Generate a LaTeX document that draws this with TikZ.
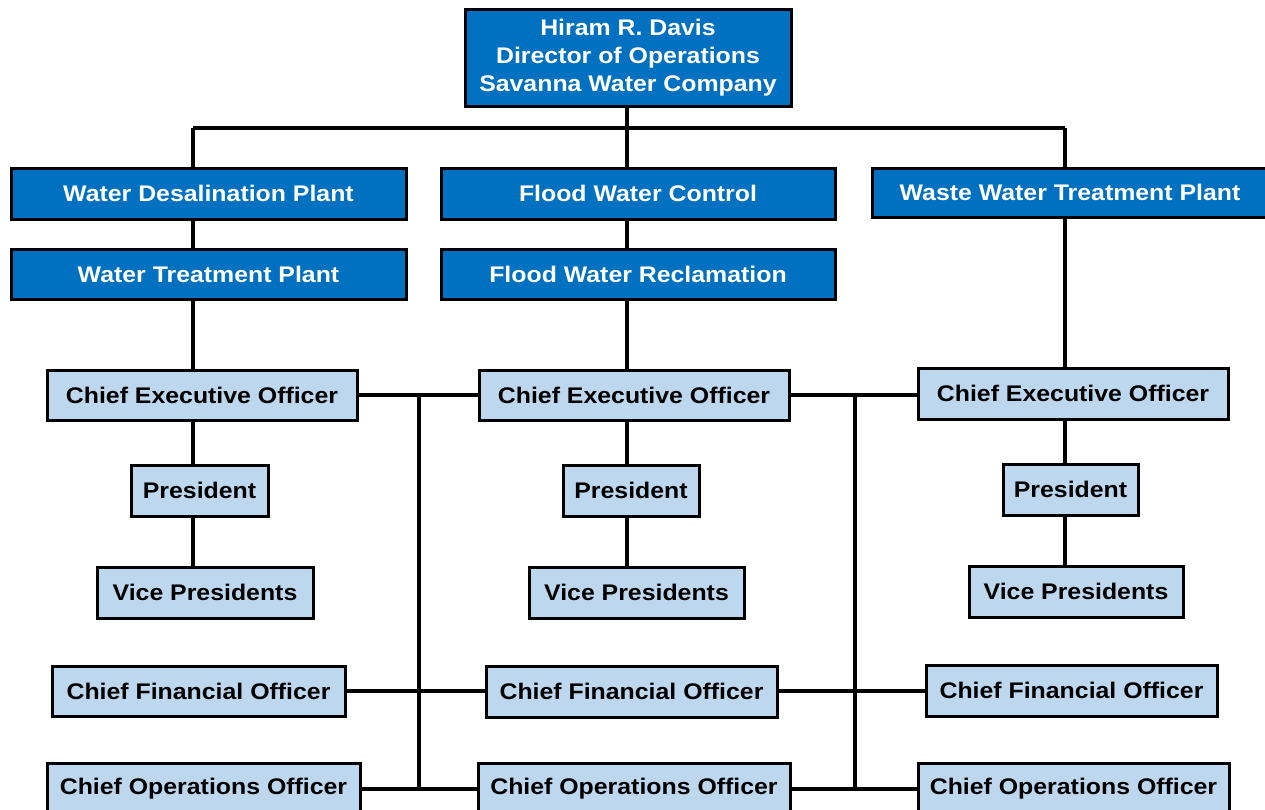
\documentclass[tikz,border=0pt]{standalone}
\usepackage{fontspec}
\setmainfont{Liberation Sans}[FakeStretch=1.1]
\definecolor{dblue}{HTML}{0070C0}
\definecolor{lblue}{HTML}{BDD7EE}
\begin{document}
\begin{tikzpicture}[x=1pt,y=-1pt,
  base/.style={draw=black,line width=3pt,inner sep=0pt,font=\fontsize{22.6}{28}\selectfont\bfseries,align=center},
  dbox/.style={base,fill=dblue,text=white},
  lbox/.style={base,fill=lblue,text=black},
  conn/.style={line width=3.5pt,black}]
\useasboundingbox (0,0) rectangle (1265,809);
\clip (0,0) rectangle (1265,809);
\fill[white] (0,0) rectangle (1265,809);
% level 1
\node[dbox,minimum width=326pt,minimum height=97pt] (top) at (628,57.5) {Hiram R. Davis\\Director of Operations\\Savanna Water Company};
% level 2
\node[dbox,minimum width=395pt,minimum height=51pt] (wdp) at (208.5,193.5) {Water Desalination Plant};
\node[dbox,minimum width=394pt,minimum height=51pt] (fwc) at (638,193.5) {Flood Water Control};
\node[dbox,minimum width=396pt,minimum height=49pt] (wwtp) at (1070,192.5) {Waste Water Treatment Plant};
\node[dbox,minimum width=395pt,minimum height=50pt] (wtp) at (208.5,274) {Water Treatment Plant};
\node[dbox,minimum width=394pt,minimum height=50pt] (fwr) at (638,274) {Flood Water Reclamation};
% CEO
\node[lbox,minimum width=310pt,minimum height=50pt] (ceo1) at (202,395) {Chief Executive Officer};
\node[lbox,minimum width=310pt,minimum height=50pt] (ceo2) at (634,395) {Chief Executive Officer};
\node[lbox,minimum width=310pt,minimum height=51pt] (ceo3) at (1073,393.5) {Chief Executive Officer};
% President
\node[lbox,minimum width=137pt,minimum height=51pt] (p1) at (199.5,490.5) {President};
\node[lbox,minimum width=136pt,minimum height=51pt] (p2) at (631,490.5) {President};
\node[lbox,minimum width=135pt,minimum height=51pt] (p3) at (1070.5,489.5) {President};
% VP
\node[lbox,minimum width=216pt,minimum height=51pt] (vp1) at (205,592.5) {Vice Presidents};
\node[lbox,minimum width=215pt,minimum height=51pt] (vp2) at (636.5,592.5) {Vice Presidents};
\node[lbox,minimum width=214pt,minimum height=51pt] (vp3) at (1076,591.5) {Vice Presidents};
% CFO
\node[lbox,minimum width=293pt,minimum height=50pt] (cfo1) at (198.5,691) {Chief Financial Officer};
\node[lbox,minimum width=291pt,minimum height=51pt] (cfo2) at (631.5,691.5) {Chief Financial Officer};
\node[lbox,minimum width=291pt,minimum height=51pt] (cfo3) at (1071.5,690.5) {Chief Financial Officer};
% COO
\node[lbox,minimum width=313pt,minimum height=52pt] (coo1) at (203.5,789) {Chief Operations Officer};
\node[lbox,minimum width=312pt,minimum height=52pt] (coo2) at (634,789) {Chief Operations Officer};
\node[lbox,minimum width=311pt,minimum height=52pt] (coo3) at (1073.5,789) {Chief Operations Officer};
% column coordinates
\coordinate (bL) at (193,128);
\coordinate (bM) at (627,128);
\coordinate (bR) at (1065,128);
\coordinate (v1) at (419,395);
\coordinate (v2) at (855,395);
% connectors
\draw[conn] (top.south -| bM) -- (bM);
\draw[conn] (bL) -- (bR);
\draw[conn] (bL) -- (wdp.north -| bL);
\draw[conn] (bM) -- (fwc.north -| bM);
\draw[conn] (bR) -- (wwtp.north -| bR);
\draw[conn] (wdp.south -| bL) -- (wtp.north -| bL);
\draw[conn] (fwc.south -| bM) -- (fwr.north -| bM);
\draw[conn] (wtp.south -| bL) -- (ceo1.north -| bL);
\draw[conn] (fwr.south -| bM) -- (ceo2.north -| bM);
\draw[conn] (wwtp.south -| bR) -- (ceo3.north -| bR);
\draw[conn] (ceo1.south -| bL) -- (p1.north -| bL);
\draw[conn] (ceo2.south -| bM) -- (p2.north -| bM);
\draw[conn] (ceo3.south -| bR) -- (p3.north -| bR);
\draw[conn] (p1.south -| bL) -- (vp1.north -| bL);
\draw[conn] (p2.south -| bM) -- (vp2.north -| bM);
\draw[conn] (p3.south -| bR) -- (vp3.north -| bR);
\draw[conn] (ceo1.east) -- (ceo2.west);
\draw[conn] (ceo2.east) -- (ceo3.west |- ceo2.east);
\draw[conn] (cfo1.east) -- (cfo2.west |- cfo1.east);
\draw[conn] (cfo2.east |- cfo1.east) -- (cfo3.west |- cfo1.east);
\draw[conn] (coo1.east) -- (coo2.west);
\draw[conn] (coo2.east) -- (coo3.west);
\draw[conn] (v1) -- (v1 |- coo1.east);
\draw[conn] (v2) -- (v2 |- coo1.east);
\end{tikzpicture}
\end{document}
